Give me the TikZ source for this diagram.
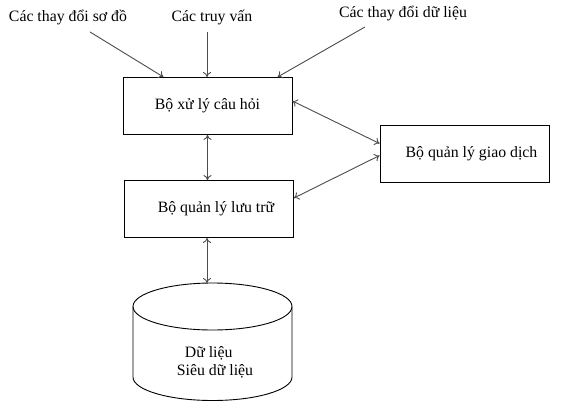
\documentclass[tikz,border=0pt]{standalone}
\usepackage{fontspec}
\setmainfont{Liberation Serif}
\usepackage{tikz}
\usetikzlibrary{arrows.meta}

\begin{document}
\begin{tikzpicture}[x=1pt, y=-1pt,
    font=\fontsize{15.8}{18}\selectfont,
    box/.style={draw, line width=0.9pt, minimum width=169pt, minimum height=57pt, inner sep=0pt},
    conn/.style={draw=black!70, line width=0.9pt, -{To[length=5pt,width=8pt]}},
    both/.style={conn, {To[length=5pt,width=8pt]}-{To[length=5pt,width=8pt]}}]
    \useasboundingbox (0,0) rectangle (565,410);
    % inputs
    \node (schema) at (68,17) {Các thay đổi sơ đồ};
    \node (query) at (212,17) {Các truy vấn};
    \node (update) at (403,13) {Các thay đổi dữ liệu};
    % components
    \node[box] (qp) at (207.5,106) {Bộ xử lý câu hỏi};
    \node[box] (sm) at (209,209) {\hspace{14pt}Bộ quản lý lưu trữ};
    \node[box] (tm) at (464.5,153.5) {\hspace{14pt}Bộ quản lý giao dịch};
    % database
    \draw[line width=0.9pt] (212.5,306.5) ellipse [x radius=79.5, y radius=23.5];
    \draw[line width=0.9pt] (133,306.5) -- (133,377) arc [start angle=180, end angle=0, x radius=79.5, y radius=23.5] -- (292,306.5);
    \coordinate (dbtop) at (207,283);
    \node[align=left] (db) at (215,362) {\hspace{8pt}Dữ liệu\\Siêu dữ liệu};
    % connectors
    \draw[conn] ([xshift=22pt,yshift=-4pt]schema.south) -- ([xshift=-44pt]qp.north);
    \draw[conn] ([xshift=-5pt,yshift=-4pt]query.south) -- ([xshift=-0.5pt]qp.north);
    \draw[conn] ([xshift=-38pt,yshift=-3pt]update.south) -- ([xshift=70pt]qp.north);
    \draw[both] ([yshift=5pt]qp.east) -- ([yshift=10pt]tm.west);
    \draw[both] ([yshift=11pt]sm.east) -- ([yshift=-2pt]tm.west);
    \draw[both] (qp.south) -- (qp.south |- sm.north);
    \draw[both] (dbtop |- sm.south) -- (dbtop);
\end{tikzpicture}
\end{document}
